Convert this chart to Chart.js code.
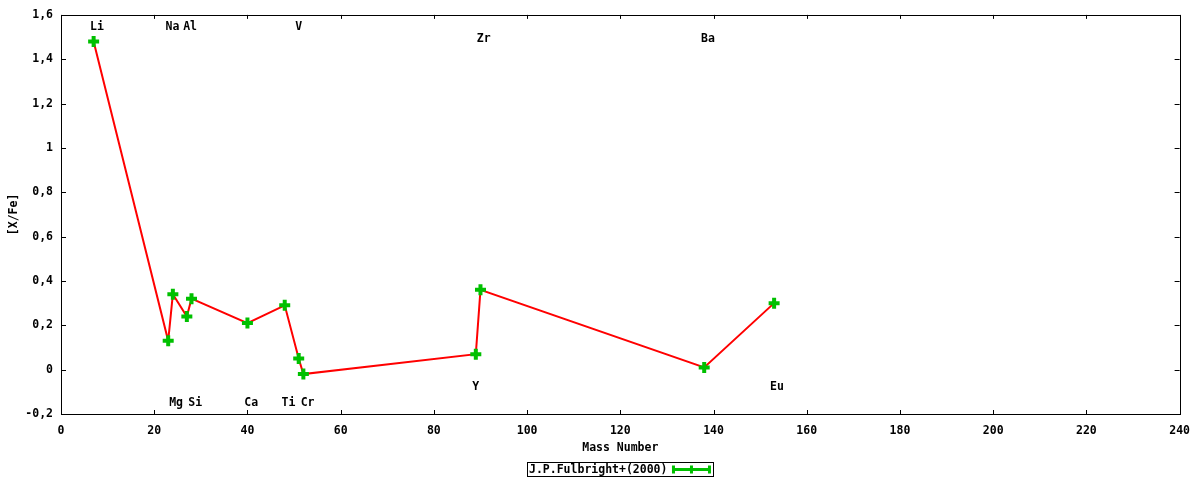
<!DOCTYPE html>
<html>
<head>
  <title>[X/Fe] vs Mass Number</title>
  <script src="https://cdn.jsdelivr.net/npm/chart.js"></script>
  <style>
    body { margin: 0; background: #ffffff; }
    #wrap { width: 1200px; height: 480px; }
  </style>
</head>
<body>
  <div id="wrap"><canvas id="abundChart"></canvas></div>

  <script>
    // values
    const masses = [7, 23, 24, 27, 28, 40, 48, 51, 52, 89, 90, 138, 153];
    const ratios = [1.48, 0.13, 0.34, 0.24, 0.32, 0.21, 0.29, 0.05, -0.02, 0.07, 0.36, 0.01, 0.30];
    const elementNames = ['Li', 'Na', 'Mg', 'Al', 'Si', 'Ca', 'Ti', 'V', 'Cr', 'Y', 'Zr', 'Ba', 'Eu'];
    const labelX = [7.7, 23.9, 24.7, 27.7, 28.8, 40.8, 48.8, 51.0, 52.9, 89.0, 90.7, 138.8, 153.6];
    const labelY = [1.545, 1.545, -0.15, 1.545, -0.15, -0.15, -0.15, 1.545, -0.15, -0.08, 1.49, 1.49, -0.08];
    const legendText = 'J.P.Fulbright+(2000)';

    const FONT = 'bold 11.5px "DejaVu Sans Mono"';
    const GREEN = '#00c000';

    const points = masses.map((m, i) => ({ x: m, y: ratios[i] }));

    // border box with inward ticks on all four sides, like gnuplot
    const framePlugin = {
      id: 'frame',
      afterDraw(chart) {
        const c = chart.ctx;
        const a = chart.chartArea;
        const xs = chart.scales.x;
        const ys = chart.scales.y;
        c.save();
        c.strokeStyle = '#000';
        c.lineWidth = 1;
        c.beginPath();
        xs.ticks.forEach(t => {
          const px = Math.round(xs.getPixelForValue(t.value)) + 0.5;
          c.moveTo(px, a.bottom); c.lineTo(px, a.bottom - 4);
          c.moveTo(px, a.top); c.lineTo(px, a.top + 4);
        });
        ys.ticks.forEach(t => {
          const py = Math.round(ys.getPixelForValue(t.value)) + 0.5;
          c.moveTo(a.left, py); c.lineTo(a.left + 5, py);
          c.moveTo(a.right, py); c.lineTo(a.right - 5, py);
        });
        c.stroke();
        c.strokeRect(Math.round(a.left) + 0.5, Math.round(a.top) + 0.5,
                     Math.round(a.right - a.left), Math.round(a.bottom - a.top));
        c.restore();
      }
    };

    // element names placed in data coordinates
    const namesPlugin = {
      id: 'names',
      afterDatasetsDraw(chart) {
        const c = chart.ctx;
        const xs = chart.scales.x;
        const ys = chart.scales.y;
        c.save();
        c.font = FONT;
        c.fillStyle = '#000';
        c.textAlign = 'center';
        c.textBaseline = 'middle';
        elementNames.forEach((n, i) => {
          c.fillText(n, xs.getPixelForValue(labelX[i]), ys.getPixelForValue(labelY[i]));
        });
        c.restore();
      }
    };

    // boxed key under the axis title, with an errorbar style sample
    const keyPlugin = {
      id: 'key',
      afterDraw(chart) {
        const c = chart.ctx;
        const a = chart.chartArea;
        c.save();
        c.font = FONT;
        const tw = c.measureText(legendText).width;
        const sw = 36;
        const w = tw + 8 + sw + 4;
        const left = Math.round((a.left + a.right) / 2 - w / 2);
        const top = 462, h = 14;
        c.strokeStyle = '#000';
        c.lineWidth = 1;
        c.strokeRect(left + 0.5, top + 0.5, Math.round(w), h);
        c.fillStyle = '#000';
        c.textBaseline = 'middle';
        c.textAlign = 'left';
        c.fillText(legendText, left + 2, top + h / 2 + 1);
        const sx = left + 2 + tw + 6;
        const sy = top + h / 2 + 0.5;
        c.strokeStyle = GREEN;
        c.lineWidth = 3;
        c.beginPath();
        c.moveTo(sx, sy); c.lineTo(sx + sw, sy);
        [0, sw / 2, sw].forEach(d => {
          c.moveTo(sx + d, sy - 4); c.lineTo(sx + d, sy + 4);
        });
        c.stroke();
        c.restore();
      }
    };

    const ctx = document.getElementById('abundChart').getContext('2d');
    const chart = new Chart(ctx, {
      type: 'scatter',
      data: {
        datasets: [{
          label: legendText,
          data: points,
          showLine: true,
          borderColor: '#ff0000',
          borderWidth: 2,
          pointStyle: 'cross',
          pointRadius: 5.5,
          pointHoverRadius: 5.5,
          pointBorderColor: GREEN,
          pointBackgroundColor: GREEN,
          pointBorderWidth: 4,
          tension: 0
        }]
      },
      options: {
        responsive: true,
        maintainAspectRatio: false,
        animation: false,
        devicePixelRatio: 1,
        layout: { padding: { top: 13, right: 20, bottom: 20, left: 0 } },
        plugins: {
          legend: { display: false },
          tooltip: { enabled: false }
        },
        scales: {
          x: {
            type: 'linear',
            min: 0,
            max: 240,
            grid: { display: false, drawTicks: false },
            border: { display: false },
            ticks: {
              stepSize: 20,
              padding: 10,
              color: '#000',
              font: { family: 'DejaVu Sans Mono', size: 11.5, weight: 'bold' }
            },
            title: {
              display: true,
              text: 'Mass Number',
              color: '#000',
              padding: { top: 0, bottom: 5 },
              font: { family: 'DejaVu Sans Mono', size: 11.5, weight: 'bold' }
            },
            afterFit(s) { s.height = 46; }
          },
          y: {
            type: 'linear',
            min: -0.2,
            max: 1.6,
            grid: { display: false, drawTicks: false },
            border: { display: false },
            ticks: {
              stepSize: 0.2,
              padding: 8,
              color: '#000',
              font: { family: 'DejaVu Sans Mono', size: 11.5, weight: 'bold' },
              callback: v => {
                const r = Math.round(v * 10) / 10;
                return String(r).replace('.', ',');
              }
            },
            title: {
              display: true,
              text: '[X/Fe]',
              color: '#000',
              padding: { top: 7, bottom: 0 },
              font: { family: 'DejaVu Sans Mono', size: 11.5, weight: 'bold' }
            },
            afterFit(s) { s.width = 61; }
          }
        }
      },
      plugins: [framePlugin, namesPlugin, keyPlugin]
    });
  </script>
</body>
</html>
